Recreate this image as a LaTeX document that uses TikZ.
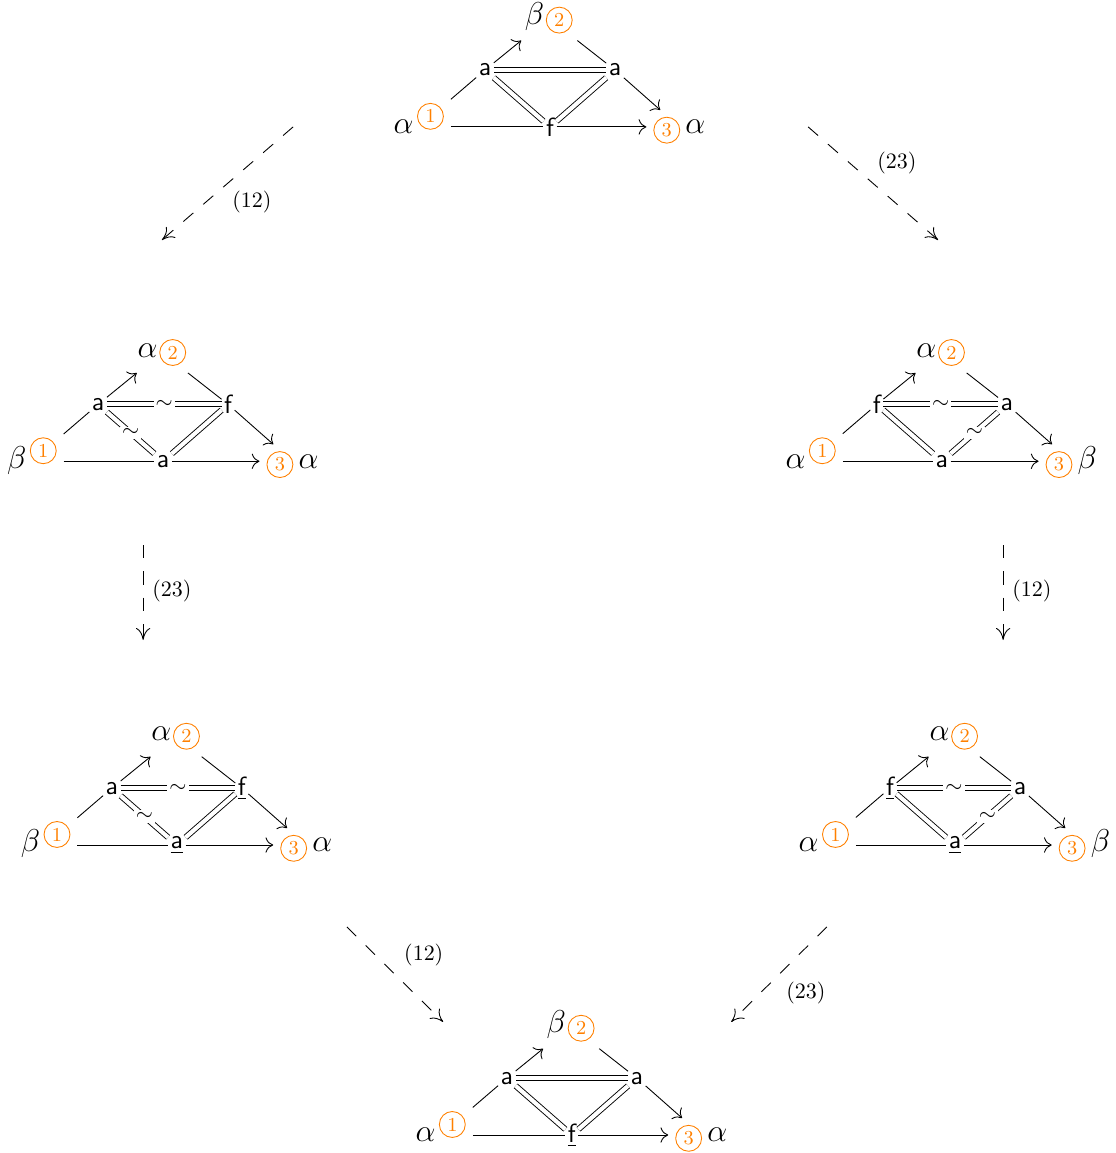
\documentclass[tikz,border=0pt]{standalone}
\usetikzlibrary{arrows.meta}
\definecolor{ring}{RGB}{255,128,0}
\tikzset{>={Computer Modern Rightarrow[length=3.5pt,width=7pt]},line width=.5pt,
  site/.style={font=\sffamily\large,inner sep=1pt},
  leg/.style={font=\Large,inner sep=3pt},
  legin/.style={leg,text height=13.8pt,text depth=7.6pt},
  legout/.style={leg,text height=7.6pt,text depth=1.4pt},
  bar/.style={double,double distance=1.9pt},
  twist/.style={fill=white,inner sep=1pt},
  move/.style={-{Computer Modern Rightarrow[length=5.5pt,width=6.5pt]},dash pattern=on 6pt off 6pt},
  tag/.style={inner sep=1pt},
  numring/.style={circle,draw=ring,text=ring,font=\small,inner sep=0pt,
    minimum size=11.8pt,text height={},text depth={}}}
\newcommand{\ringnum}[2][0pt]{\raisebox{#1}{\tikz[baseline=(rn.base)]\node[numring](rn){#2};}}
\newcommand{\triagram}[8]{%
\begin{scope}[shift={#2}]
\node[site] (#1bt) at (0,0) {#8};
\node[site] (#1ul) at (-1.04,.91) {#6};\node[site] (#1ur) at (1.04,.91) {#7};
\node[legin] (#1in) at (-2.10,0) {$#3\mkern2mu\ringnum[4.9pt]{1}$};
\node[leg] (#1up) at (-.02,1.74) {$#4\mkern1mu\ringnum[-.9pt]{2}$};
\node[legout] (#1out) at (2.07,0) {$\ringnum[-1.3pt]{3}\mkern3mu#5$};
\draw (#1in) -- (#1ul);\draw[->] (#1ul) -- (#1up);
\draw (#1up) -- (#1ur);\draw[->] (#1ur) -- (#1out);
\draw (#1in) -- (#1bt);\draw[->] (#1bt) -- (#1out);
\draw[bar] (#1ul) -- (#1ur);\draw[bar] (#1ul) -- (#1bt);\draw[bar] (#1ur) -- (#1bt);
\end{scope}}

\begin{document}
\begin{tikzpicture}
\useasboundingbox (0,0) rectangle (17.856,-18.448);
\triagram{t}{(8.80,-2.03)}{\alpha}{\beta}{\alpha}{a}{a}{f}
\triagram{l1}{(2.61,-7.38)}{\beta}{\alpha}{\alpha}{a}{f}{a}
\triagram{r1}{(15.07,-7.38)}{\alpha}{\alpha}{\beta}{f}{a}{a}
\triagram{l2}{(2.83,-13.52)}{\beta}{\alpha}{\alpha}{a}{\underline{f}}{\underline{a}}
\triagram{r2}{(15.28,-13.52)}{\alpha}{\alpha}{\beta}{\underline{f}}{a}{\underline{a}}
\triagram{b}{(9.15,-18.16)}{\alpha}{\beta}{\alpha}{a}{a}{\underline{f}}
\path (l1ul) -- (l1ur) node[twist,midway] (l1x1) {$\sim$};
\path (l1ul) -- (l1bt) node[twist,midway] (l1x2) {$\sim$};
\path (r1ul) -- (r1ur) node[twist,midway] (r1x1) {$\sim$};
\path (r1ur) -- (r1bt) node[twist,midway] (r1x2) {$\sim$};
\path (l2ul) -- (l2ur) node[twist,midway] (l2x1) {$\sim$};
\path (l2ul) -- (l2bt) node[twist,midway] (l2x2) {$\sim$};
\path (r2ul) -- (r2ur) node[twist,midway] (r2x1) {$\sim$};
\path (r2ur) -- (r2bt) node[twist,midway] (r2x2) {$\sim$};
\coordinate (m1a) at (4.69,-2.03);\coordinate (m1b) at (2.59,-3.84);
\coordinate (m2a) at (12.93,-2.03);\coordinate (m2b) at (15.01,-3.84);
\coordinate (m3a) at (2.29,-8.72);\coordinate (m3b) at (2.29,-10.24);
\coordinate (m4a) at (16.05,-8.72);\coordinate (m4b) at (16.05,-10.24);
\coordinate (m5a) at (5.55,-14.83);\coordinate (m5b) at (7.09,-16.35);
\coordinate (m6a) at (13.23,-14.83);\coordinate (m6b) at (11.70,-16.35);
\draw[move] (m1a) -- (m1b) node[tag,midway,shift={(.39,-.30)}] (m1t) {(12)};
\draw[move] (m2a) -- (m2b) node[tag,midway,shift={(.38,.33)}] (m2t) {(23)};
\draw[move] (m3a) -- (m3b) node[tag,midway,shift={(.46,.02)}] (m3t) {(23)};
\draw[move] (m4a) -- (m4b) node[tag,midway,shift={(.46,.02)}] (m4t) {(12)};
\draw[move] (m5a) -- (m5b) node[tag,midway,shift={(.46,.31)}] (m5t) {(12)};
\draw[move] (m6a) -- (m6b) node[tag,midway,shift={(.43,-.30)}] (m6t) {(23)};
\end{tikzpicture}
\end{document}
